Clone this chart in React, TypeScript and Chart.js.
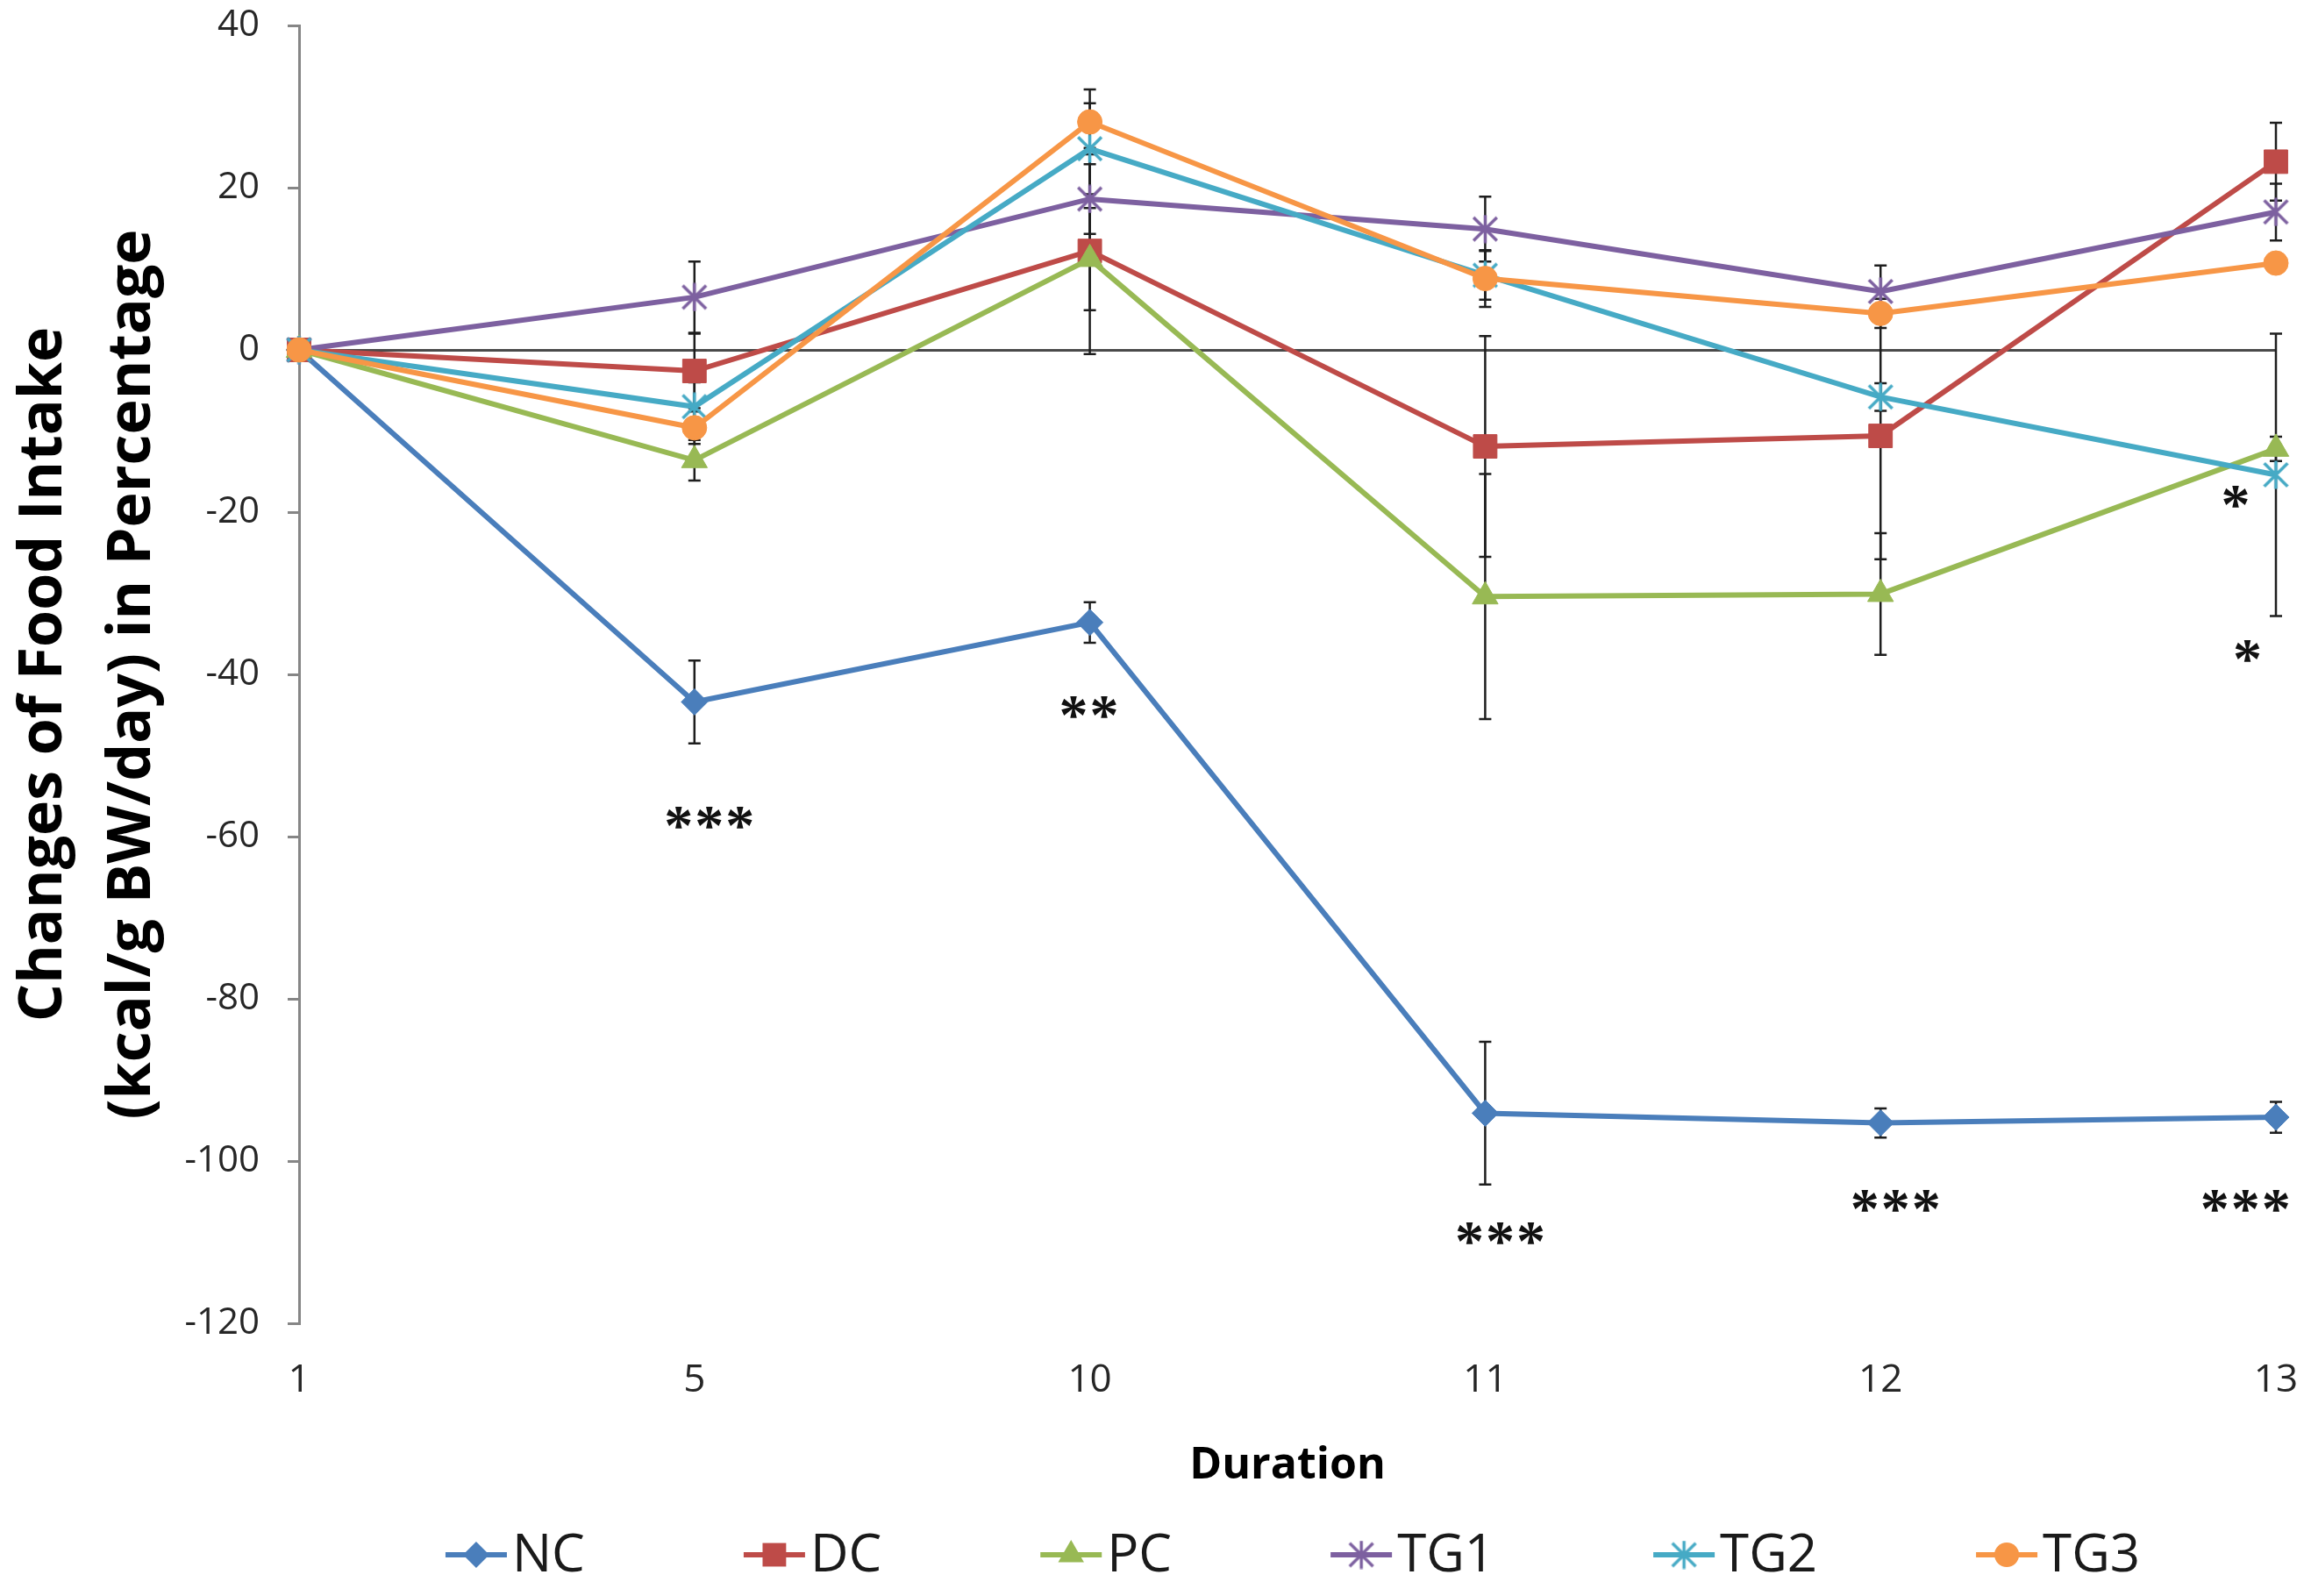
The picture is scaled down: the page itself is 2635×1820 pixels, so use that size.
import React, { useEffect, useRef } from 'react';
import { Chart, registerables } from 'chart.js';

Chart.register(...registerables);

// ---------- data ----------
const categories = ['1', '5', '10', '11', '12', '13'];
const seriesNames = ['NC', 'DC', 'PC', 'TG1', 'TG2', 'TG3'];

const ncValues = [0, -43.4, -33.6, -94.1, -95.3, -94.6];
const dcValues = [0, -2.6, 12.2, -11.9, -10.6, 23.2];
const pcValues = [0, -13.6, 11.2, -30.4, -30.1, -12.2];
const tg1Values = [0, 6.5, 18.6, 14.9, 7.2, 17.0];
const tg2Values = [0, -7.0, 24.8, 9.2, -5.8, -15.4];
const tg3Values = [0, -9.6, 28.1, 8.8, 4.5, 10.7];

const ncErrors = [0, 5.1, 2.5, 8.8, 1.8, 1.9];
const dcErrors = [0, 4.6, 12.7, 13.6, 15.2, 4.8];
const pcErrors = [0, 2.5, 6.3, 15.1, 7.5, 1.5];
const tg1Errors = [0, 4.4, 4.3, 4.0, 3.2, 3.5];
const tg2Errors = [0, 3.0, 5.6, 3.0, 1.7, 17.4];
const tg3Errors = [0, 2.0, 4.0, 3.5, 1.8, 1.0];

const yTickMin = -120;
const yTickMax = 40;
const yTickStep = 20;

// significance marks: category position (fractional index), value, text
const sigIndex = [1.04, 2.0, 3.04, 4.04, 4.925, 4.9, 4.93];
const sigValue = [-57.4, -43.8, -108.6, -104.6, -104.6, -17.8, -36.9];
const sigText = ['***', '**', '***', '***', '***', '*', '*'];

// ---------- styles ----------
const colors = ['#4A7EBB', '#BE4B48', '#98B954', '#7D60A0', '#46AAC5', '#F79646'];
const TICK_FONT = '"Open Sans", "Noto Sans", sans-serif';

function makeStar(color: string, size: number, lw: number): HTMLCanvasElement {
  const c = document.createElement('canvas');
  c.width = size;
  c.height = size;
  const g = c.getContext('2d')!;
  g.strokeStyle = color;
  g.lineWidth = lw;
  const m = lw * 0.9;
  g.beginPath();
  g.moveTo(m, m);
  g.lineTo(size - m, size - m);
  g.moveTo(size - m, m);
  g.lineTo(m, size - m);
  g.moveTo(size / 2, 0.5);
  g.lineTo(size / 2, size - 0.5);
  g.stroke();
  return c;
}

export default function App() {
  const canvasRef = useRef<HTMLCanvasElement | null>(null);

  useEffect(() => {
    const canvas = canvasRef.current;
    if (!canvas) return;

    const values = [ncValues, dcValues, pcValues, tg1Values, tg2Values, tg3Values];
    const errors = [ncErrors, dcErrors, pcErrors, tg1Errors, tg2Errors, tg3Errors];
    const star1 = makeStar(colors[3], 33, 3.5);
    const star2 = makeStar(colors[4], 33, 3.5);
    const pointStyles: any[] = ['rectRot', 'rect', 'triangle', star1, star2, 'circle'];
    const radii = [15, 19, 17, 16, 16, 14];

    const datasets = seriesNames.map((name, i) => ({
      label: name,
      data: values[i],
      borderColor: colors[i],
      backgroundColor: colors[i],
      pointBackgroundColor: colors[i],
      pointBorderColor: colors[i],
      pointBorderWidth: 1,
      pointStyle: pointStyles[i],
      pointRadius: radii[i],
      pointHoverRadius: radii[i],
      borderWidth: 6,
      tension: 0,
      clip: false as any,
      order: 6 - i,
    }));

    const errorBarPlugin = {
      id: 'errorBars',
      beforeDatasetsDraw(chart: any) {
        const { ctx } = chart;
        const ys = chart.scales.y;
        chart.data.datasets.forEach((ds: any, i: number) => {
          const meta = chart.getDatasetMeta(i);
          const errs = errors[i];
          meta.data.forEach((pt: any, j: number) => {
            const e = errs[j];
            if (!e) return;
            const v = ds.data[j];
            const x = pt.x;
            const y1 = ys.getPixelForValue(v + e);
            const y2 = ys.getPixelForValue(v - e);
            ctx.save();
            ctx.strokeStyle = '#1e1e1e';
            ctx.lineWidth = 2.5;
            ctx.beginPath();
            ctx.moveTo(x, y1);
            ctx.lineTo(x, y2);
            ctx.moveTo(x - 7, y1);
            ctx.lineTo(x + 7, y1);
            ctx.moveTo(x - 7, y2);
            ctx.lineTo(x + 7, y2);
            ctx.stroke();
            ctx.restore();
          });
        });
      },
    };

    const sigPlugin = {
      id: 'sigMarks',
      afterDatasetsDraw(chart: any) {
        const { ctx } = chart;
        const xs = chart.scales.x;
        const ys = chart.scales.y;
        const fs = 66;
        ctx.save();
        ctx.fillStyle = '#111';
        ctx.font = `bold ${fs}px "Liberation Serif", serif`;
        ctx.textAlign = 'center';
        ctx.textBaseline = 'alphabetic';
        (ctx as any).letterSpacing = '2px';
        sigText.forEach((t, k) => {
          const x = xs.getPixelForValue(sigIndex[k]);
          const y = ys.getPixelForValue(sigValue[k]);
          ctx.fillText(t, x, y + fs * 0.5);
        });
        ctx.restore();
      },
    };

    const legendPlugin = {
      id: 'customLegend',
      afterDraw(chart: any) {
        const { ctx, chartArea } = chart;
        const fs = 60;
        const lineLen = 70;
        const textGap = 6;
        const itemGap = 181;
        const yc = 1773;
        ctx.save();
        ctx.font = `${fs}px ${TICK_FONT}`;
        const widths = seriesNames.map((n) => lineLen + textGap + ctx.measureText(n).width);
        const total = widths.reduce((a, b) => a + b, 0) + itemGap * (widths.length - 1);
        let x = (chartArea.left + chartArea.right) / 2 - total / 2 + 6;
        seriesNames.forEach((n, i) => {
          ctx.strokeStyle = colors[i];
          ctx.lineWidth = 6;
          ctx.beginPath();
          ctx.moveTo(x, yc);
          ctx.lineTo(x + lineLen, yc);
          ctx.stroke();
          const ps = pointStyles[i];
          const cx = x + lineLen / 2;
          if (typeof ps !== 'string') {
            ctx.drawImage(ps, cx - ps.width / 2, yc - ps.height / 2);
          } else {
            ctx.fillStyle = colors[i];
            ctx.beginPath();
            const r = radii[i];
            if (ps === 'rectRot') {
              ctx.moveTo(cx, yc - r);
              ctx.lineTo(cx + r, yc);
              ctx.lineTo(cx, yc + r);
              ctx.lineTo(cx - r, yc);
              ctx.closePath();
            } else if (ps === 'rect') {
              const s = r * Math.SQRT1_2;
              ctx.rect(cx - s, yc - s, 2 * s, 2 * s);
            } else if (ps === 'triangle') {
              for (let k = 0; k < 3; k++) {
                const a = -Math.PI / 2 + (k * 2 * Math.PI) / 3;
                const px = cx + Math.cos(a) * r;
                const py = yc + Math.sin(a) * r;
                if (k === 0) ctx.moveTo(px, py);
                else ctx.lineTo(px, py);
              }
              ctx.closePath();
            } else {
              ctx.arc(cx, yc, r, 0, Math.PI * 2);
            }
            ctx.fill();
          }
          ctx.fillStyle = '#1a1a1a';
          ctx.textAlign = 'left';
          ctx.textBaseline = 'middle';
          ctx.fillText(n, x + lineLen + textGap, yc + 2);
          x += widths[i] + itemGap;
        });
        ctx.restore();
      },
    };

    const chart = new Chart(canvas, {
      type: 'line',
      data: { labels: categories, datasets: datasets as any },
      plugins: [errorBarPlugin, sigPlugin, legendPlugin],
      options: {
        animation: false,
        responsive: true,
        maintainAspectRatio: false,
        devicePixelRatio: 1,
        layout: { autoPadding: false, padding: { left: 0, right: 40, top: 29, bottom: 0 } },
        plugins: {
          legend: { display: false },
          tooltip: { enabled: false },
        },
        scales: {
          x: {
            type: 'category',
            offset: false,
            grid: { display: false, drawTicks: false },
            border: { display: false },
            ticks: {
              color: '#262626',
              font: { family: TICK_FONT, size: 44 },
              padding: 39,
              maxRotation: 0,
              autoSkip: false,
            },
            title: {
              display: true,
              text: 'Duration',
              color: '#000',
              font: { family: TICK_FONT, size: 50, weight: 'bold' },
              padding: { top: 0, bottom: 118 },
            },
            afterFit: (scale: any) => {
              scale.height = 311;
              scale.paddingLeft = 0;
              scale.paddingRight = 0;
            },
          },
          y: {
            min: yTickMin,
            max: yTickMax,
            ticks: {
              stepSize: yTickStep,
              color: '#262626',
              font: { family: TICK_FONT, size: 42 },
              padding: 32,
            },
            grid: {
              drawOnChartArea: true,
              color: (c: any) => (c.tick && c.tick.value === 0 ? '#4a4a4a' : 'rgba(0,0,0,0)'),
              lineWidth: 3,
              tickColor: '#868686',
              tickLength: 13,
              tickWidth: 3,
            },
            border: { display: true, color: '#868686', width: 3 },
            title: {
              display: true,
              text: ['Changes of Food Intake', '(kcal/g BW/day) in Percentage'],
              color: '#000',
              font: { family: TICK_FONT, size: 68, weight: 'bold', lineHeight: 1.485 },
              padding: { top: 0, bottom: 0 },
            },
            afterFit: (scale: any) => {
              scale.width = 341;
              scale.paddingTop = 0;
              scale.paddingBottom = 0;
            },
          },
        },
      },
    });

    return () => chart.destroy();
  }, []);

  return (
    <div style={{ position: 'absolute', left: 0, top: 0, width: 2635, height: 1820, background: '#fff' }}>
      <canvas ref={canvasRef} />
    </div>
  );
}
